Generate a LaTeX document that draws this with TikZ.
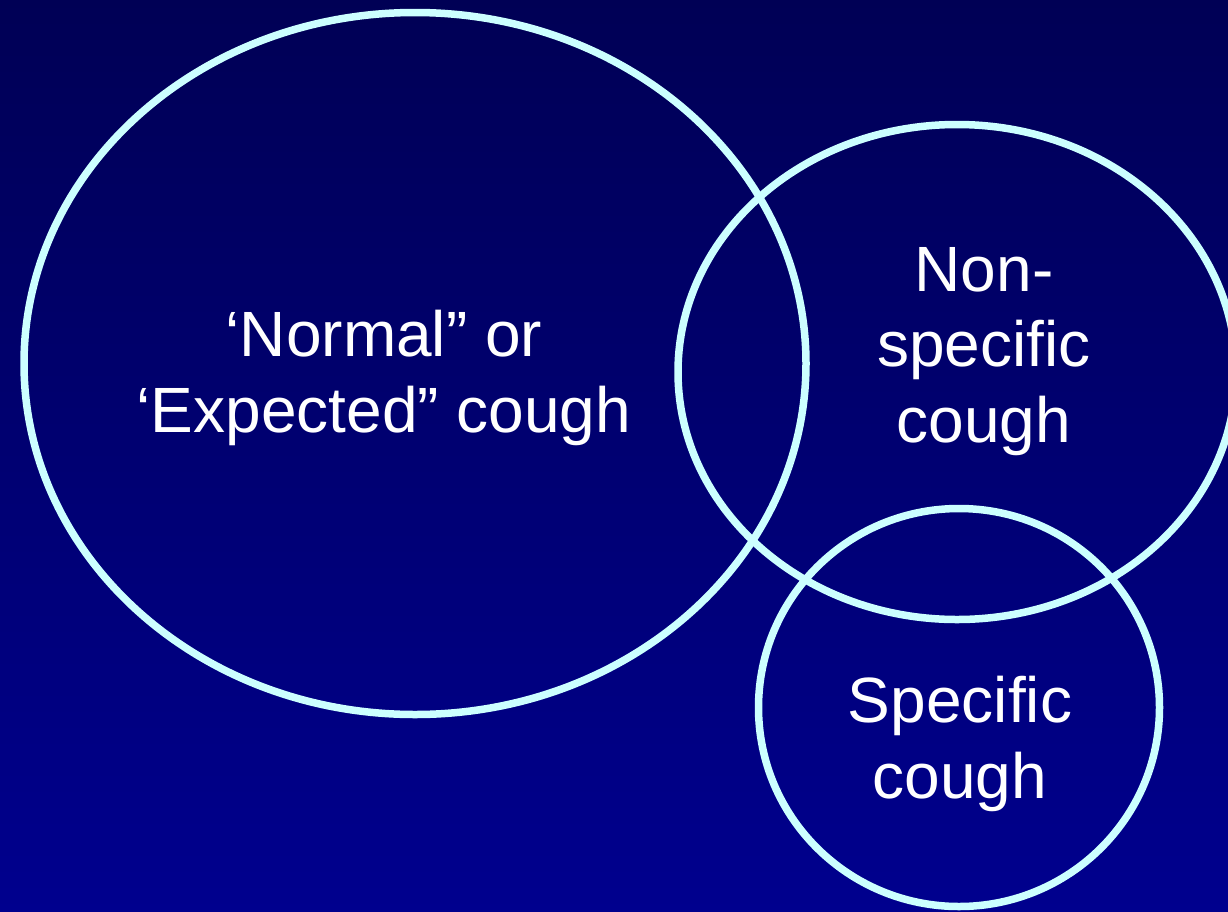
\documentclass[tikz,border=0pt]{standalone}
\usepackage{fontspec}
\setmainfont{Liberation Sans}
\definecolor{bgtop}{RGB}{0,0,85}
\definecolor{bgbot}{RGB}{0,0,142}
\definecolor{ring}{RGB}{204,255,255}
\tikzset{
  ringline/.style={draw=ring, line width=7.5pt},
  label/.style={text=white, align=center, inner sep=0pt,
    font=\fontsize{64}{75.5}\selectfont}
}
\begin{document}
\begin{tikzpicture}[x=1pt,y=-1pt]
\useasboundingbox (0,0) rectangle (1228,911);
\shade[top color=bgtop, bottom color=bgbot] (0,0) rectangle (1228,911);
\draw[ringline] (415,363.5) ellipse [x radius=391pt, y radius=351pt];
\draw[ringline] (957,372) ellipse [x radius=279pt, y radius=247.5pt];
\draw[ringline] (959,707.5) ellipse [x radius=200.5pt, y radius=199pt];
\node[label] (normal) at (384,378) {‘Normal” or\\‘Expected” cough};
\node[label] (nonspec) at (984,351.5) {Non-\\specific\\cough};
\node[label] (spec) at (960,744) {Specific\\cough};
\end{tikzpicture}
\end{document}
